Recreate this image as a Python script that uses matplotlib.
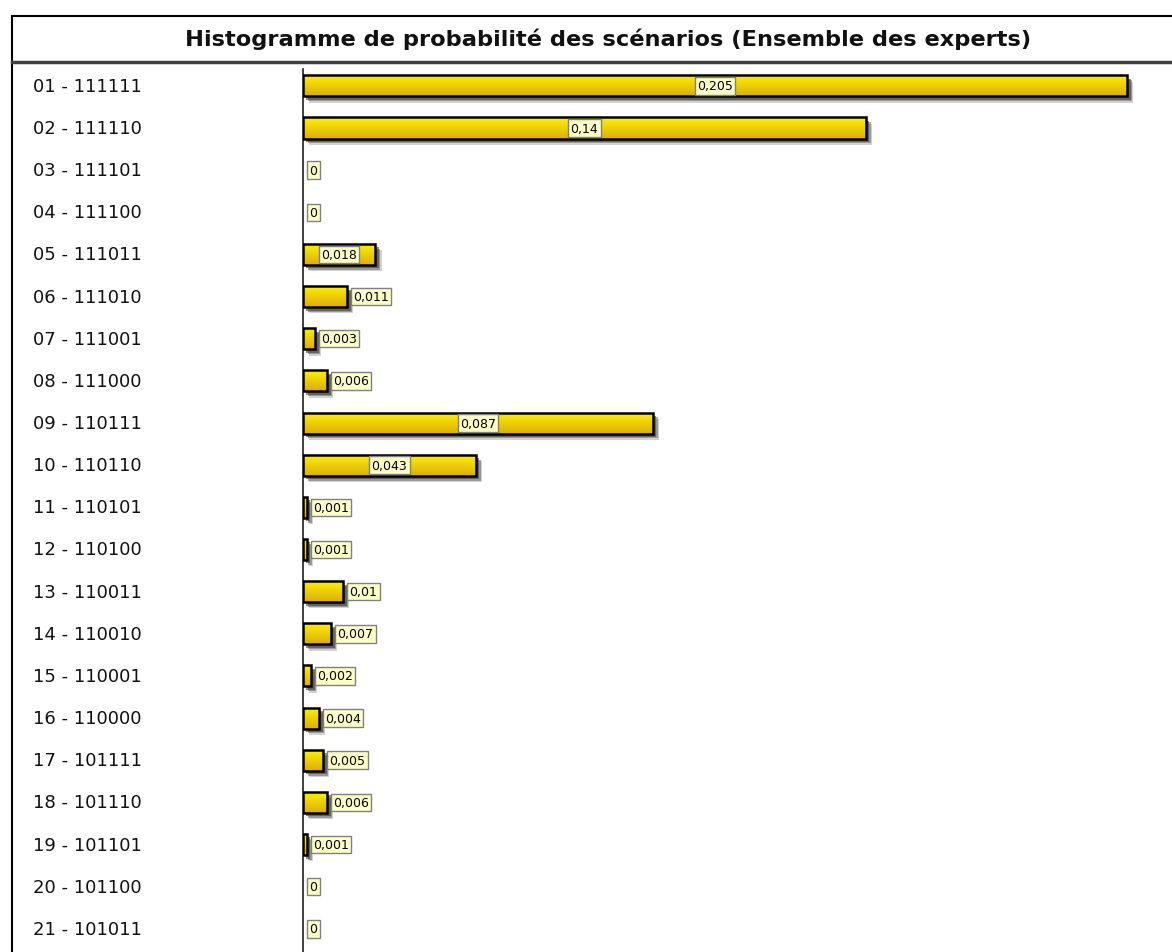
import numpy as np
import matplotlib
matplotlib.use("Agg")
import matplotlib.pyplot as plt
import matplotlib.patheffects as pe
from matplotlib.lines import Line2D
from matplotlib.transforms import blended_transform_factory

plt.rcParams['font.family'] = ['DejaVu Sans']

title = "Histogramme de probabilité des scénarios (Ensemble des experts)"
scenarios = ["01 - 111111", "02 - 111110", "03 - 111101", "04 - 111100",
             "05 - 111011", "06 - 111010", "07 - 111001", "08 - 111000",
             "09 - 110111", "10 - 110110", "11 - 110101", "12 - 110100",
             "13 - 110011", "14 - 110010", "15 - 110001", "16 - 110000",
             "17 - 101111", "18 - 101110", "19 - 101101", "20 - 101100",
             "21 - 101011"]
probas = [0.205, 0.14, 0, 0, 0.018, 0.011, 0.003, 0.006, 0.087, 0.043,
          0.001, 0.001, 0.01, 0.007, 0.002, 0.004, 0.005, 0.006, 0.001, 0, 0]

W, H = 1172, 953
fig = plt.figure(figsize=(W / 100, H / 100), dpi=100)
fig.patch.set_facecolor("white")

# cadre + titre
fig.add_artist(Line2D([12 / W, 1], [1 - 17 / H, 1 - 17 / H], color="black", lw=1.5))
fig.add_artist(Line2D([12 / W, 12 / W], [0, 1 - 17 / H], color="black", lw=1.5))
fig.add_artist(Line2D([12 / W, 1], [1 - 63 / H, 1 - 63 / H], color="#404040", lw=2.5))
fig.text(608 / W, 1 - 39 / H, title, ha="center", va="center",
         fontsize=16.2, fontweight="bold", color="#111111")

ax = fig.add_axes([303 / W, 0, 1 - 303 / W, 1 - 70 / H])
p = np.array(probas)
n = len(p)
y = np.arange(n)
nz = p > 0
h = 0.5
ax.set_xlim(0, 869 / 4020)
ax.set_ylim(n - 1 + 0.55, -0.4)
for s in ["top", "right", "bottom"]:
    ax.spines[s].set_visible(False)
ax.spines["left"].set_linewidth(1.2)
ax.spines["left"].set_color("#202020")
ax.set_xticks([])
ax.set_yticks([])

# ombre portée douce sous les barres
shadow = [pe.SimplePatchShadow(offset=(4.5, -4.5), shadow_rgbFace="#808080", alpha=0.35),
          pe.SimplePatchShadow(offset=(3.5, -3.5), shadow_rgbFace="#606060", alpha=0.5),
          pe.SimplePatchShadow(offset=(2.5, -2.5), shadow_rgbFace="#404040", alpha=0.6),
          pe.Normal()]
bars = ax.barh(y[nz], p[nz], height=h, color="#F2CC00", edgecolor="none",
               path_effects=shadow, zorder=2)

# dégradé jaune -> doré
grad = np.linspace(0, 1, 64).reshape(-1, 1)
top_c = np.array([1.0, 0.95, 0.0])
bot_c = np.array([0.86, 0.68, 0.05])
grad_img = (top_c + (bot_c - top_c) * grad[..., None]).reshape(64, 1, 3)

for i, v, b in zip(y[nz], p[nz], bars):
    im = ax.imshow(grad_img, extent=[0, v, i + h / 2, i - h / 2],
                   aspect="auto", zorder=3, interpolation="bilinear")
    im.set_clip_path(b)

ax.barh(y[nz], p[nz], height=h, facecolor="none", edgecolor="black",
        linewidth=1.8, zorder=4)

box = dict(boxstyle="square,pad=0.18", facecolor="#FFFFC8", edgecolor="#808080", lw=1)
for i, v in enumerate(probas):
    txt = "{:g}".format(v).replace(".", ",")
    bar_px = v * 4020
    lab_px = 7.5 * len(txt) + 4
    if bar_px > lab_px + 10:
        ax.text(v / 2, i, txt, ha="center", va="center", fontsize=9,
                bbox=box, zorder=5)
    else:
        ax.annotate(txt, (v, i), xytext=(4.5, 0), textcoords="offset points",
                    ha="left", va="center", fontsize=9, bbox=box, zorder=5)

# libellés des scénarios
tr = blended_transform_factory(fig.transFigure, ax.transData)
for i, s in enumerate(scenarios):
    fig.text(33 / W, i, s, transform=tr, ha="left", va="center",
             fontsize=13, color="#111111")

fig.savefig("out.png", dpi=100)
